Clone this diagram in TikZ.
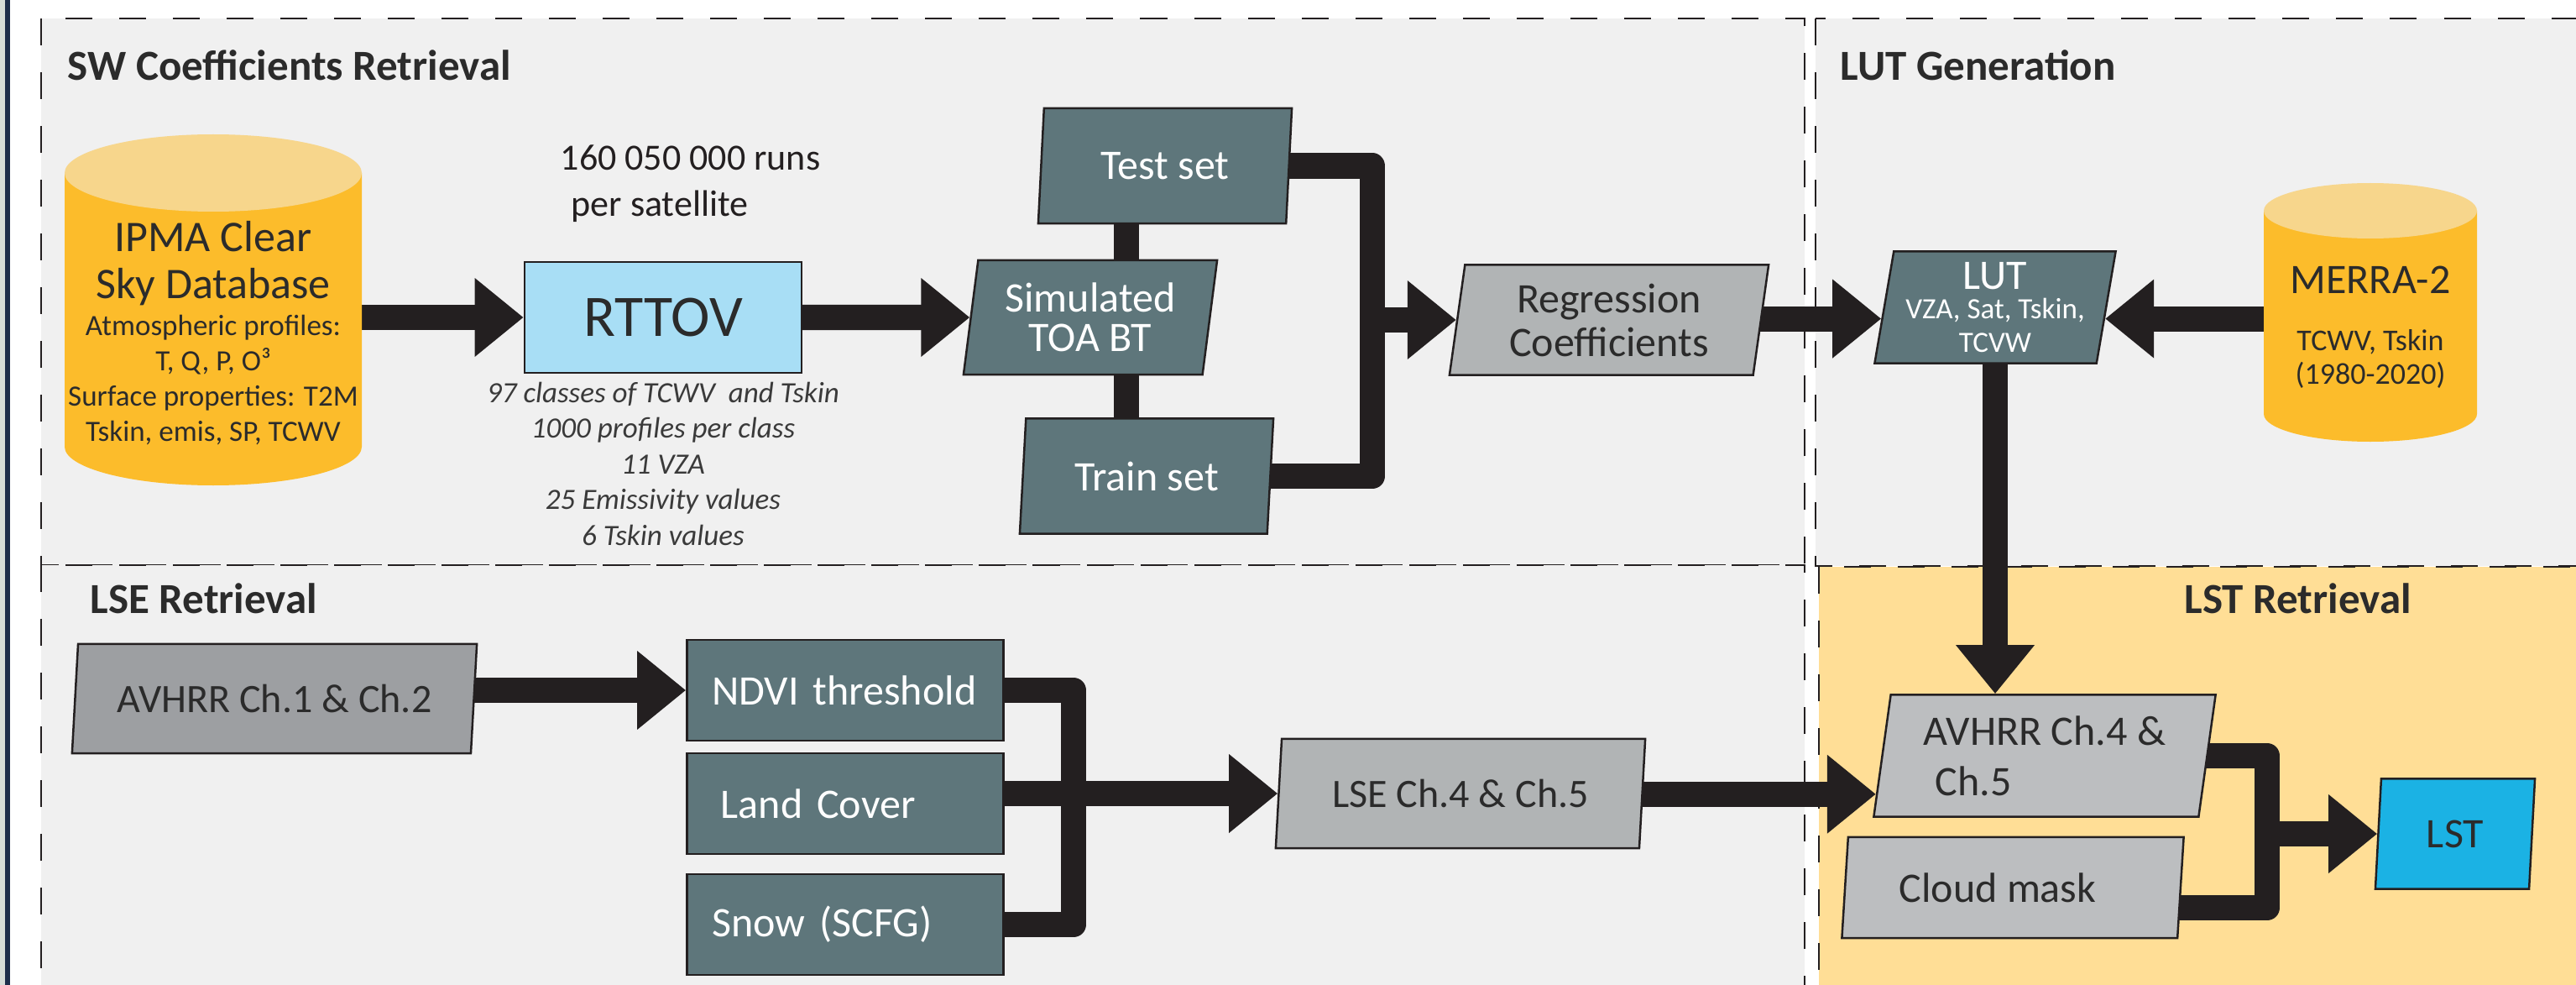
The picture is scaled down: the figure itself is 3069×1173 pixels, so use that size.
\documentclass[tikz,border=0pt]{standalone}
\usepackage{fontspec}
\setmainfont{Carlito}
\usetikzlibrary{shapes.geometric,arrows.meta,calc}
\pgfdeclarelayer{panels}
\pgfdeclarelayer{links}
\pgfsetlayers{panels,links,main}

\definecolor{linec}{HTML}{231F20}
\definecolor{paneltone}{HTML}{F0F0F0}
\definecolor{lstpanel}{HTML}{FFDE96}
\definecolor{slatefill}{HTML}{5E767B}
\definecolor{coefgray}{HTML}{B1B4B5}
\definecolor{chonegray}{HTML}{9D9FA2}
\definecolor{chfourgray}{HTML}{BCBEC0}
\definecolor{rttovblue}{HTML}{A8DEF5}
\definecolor{lstblue}{HTML}{1BB2E4}
\definecolor{cylbody}{HTML}{FCBC2B}
\definecolor{cyltop}{HTML}{F7D68C}
\definecolor{txtdark}{HTML}{2B2B2B}
\definecolor{notegray}{HTML}{3A3A3A}
\definecolor{navyline}{HTML}{1C2E4A}
\definecolor{stripc}{HTML}{D5DDD8}

\newcommand\fsz[2]{\fontsize{#1pt}{#2pt}\selectfont}
% database cylinder: centre x, top-face centre y, bottom-face centre y, x radius, y radius
\newcommand\dbcyl[5]{%
  \fill[cylbody] (#1-#4,#2) -- (#1-#4,#3) arc[start angle=180,end angle=360,x radius=#4,y radius=#5] -- (#1+#4,#2) -- cycle;
  \fill[cyltop] (#1,#2) ellipse[x radius=#4,y radius=#5];}

\tikzset{
  panel/.style={fill=paneltone, draw=linec, line width=0.75pt, dash pattern=on 0.32cm off 0.32cm},
  title/.style={anchor=base west, inner sep=0pt, text=txtdark, font=\bfseries\fsz{14.5}{17}},
  para/.style={trapezium, trapezium left angle=78, trapezium right angle=102,
    trapezium stretches body, draw=linec, line width=0.71pt, inner sep=0pt, align=center},
  slate/.style={fill=slatefill, text=white},
  boxslate/.style={rectangle, fill=slatefill, draw=linec, line width=0.71pt, minimum height=1.2cm,
    text width=3.17cm, inner xsep=0.3cm, inner ysep=0pt, align=left, text=white, font=\fsz{14.23}{17}},
  link/.style={draw=linec, line width=0.3cm, line join=round},
  fat/.style={draw=linec, line width=0.3cm, -{Triangle[length=0.58cm,width=0.9cm]}},
}

\begin{document}
\begin{tikzpicture}[x=0.01cm,y=0.01cm]
\useasboundingbox (0,0) rectangle (3069,-1173);

% ---------- frame and panels ----------
\begin{pgfonlayer}{panels}
  \clip (0,0) rectangle (3069,-1173);
  \fill[white] (0,0) rectangle (3069,-1173);
  \fill[stripc] (0,0) rectangle (6,-1173);
  \fill[navyline] (6,0) rectangle (12,-1173);
  \draw[panel] (49,-22) rectangle (2150,-673);
  \draw[panel] (49,-673) rectangle (2150,-1260);
  \draw[panel] (2163,-22) rectangle (3150,-674);
  \draw[panel, fill=lstpanel] (2167,-675) rectangle (3150,-1260);
\end{pgfonlayer}

% ---------- panel titles ----------
\node[title] (swtitle)  at (80,-96)   {SW Coefficients Retrieval};
\node[title] (luttitle) at (2192,-96) {LUT Generation};
\node[title] (lsetitle) at (107,-730) {LSE Retrieval};
\node[title] (lsttitle) at (2602,-730) {LST Retrieval};

% ---------- databases ----------
\dbcyl{254}{-206}{-532}{177}{46}
\node[anchor=north, align=center, inner sep=0pt, text=txtdark, font=\fsz{9.96}{11.95}] (ipma) at (254,-263)
  {{\fsz{14.8}{11.95}IPMA Clear}\\[0.14cm]{\fsz{14.8}{11.95}Sky Database}\\[0.015cm]
   Atmospheric profiles:\\T, Q, P, O³\\Surface properties: T2M\\Tskin, emis, SP, TCWV};

\dbcyl{2824}{-251}{-493}{127}{33}
\node[anchor=north, align=center, inner sep=0pt, text=txtdark, font=\fsz{10.24}{11.38}] (merra) at (2824,-316)
  {{\fsz{14.23}{11.38}MERRA-2}\\[0.28cm]TCWV, Tskin\\(1980-2020)};

% ---------- SW coefficients chain ----------
\node[rectangle, fill=rttovblue, draw=linec, line width=0.71pt, minimum width=3.3cm, minimum height=1.32cm,
      text=txtdark, font=\fsz{19.92}{24}] (rttov) at (790,-378) {RTTOV};
\node[anchor=north west, align=left, inner sep=0pt, text=linec, font=\fsz{12.52}{15.65}] (runs) at (667,-172)
  {160 050 000 runs\\\hspace*{3.7pt}per satellite};
\node[anchor=north, align=center, inner sep=0pt, text=notegray, font=\itshape\fsz{9.96}{12.09}] (rtnotes) at (790,-454)
  {97 classes of TCWV\ \ and Tskin\\1000 profiles per class\\11 VZA\\25 Emissivity values\\6 Tskin values};

\node[para, slate, minimum width=3.02cm, minimum height=1.37cm, font=\fsz{14.23}{17}] (test) at (1388,-197.5) {Test set};
\node[para, slate, minimum width=3.02cm, minimum height=1.36cm, font=\fsz{14.23}{13.37}] (sim) at (1299,-378) {Simulated\\TOA BT};
\node[para, slate, minimum width=3.02cm, minimum height=1.37cm, font=\fsz{14.23}{17}] (train) at (1366,-567) {Train set};
\node[para, fill=coefgray, text=txtdark, minimum width=3.8cm, minimum height=1.31cm, font=\fsz{14.23}{14.8}] (reg) at (1917,-381)
  {Regression\\Coefficients};

% ---------- LUT ----------
\node[para, slate, minimum width=2.87cm, minimum height=1.33cm, font=\fsz{9.96}{11.38}] (lut) at (2377,-366)
  {{\fsz{14.23}{11.38}LUT}\\[-0.05cm]VZA, Sat, Tskin,\\TCVW};

% ---------- LSE retrieval ----------
\node[para, fill=chonegray, text=txtdark, minimum width=4.82cm, minimum height=1.3cm, font=\fsz{13.66}{16}] (avh1) at (327,-832)
  {AVHRR Ch.1 \& Ch.2};
\node[boxslate] (ndvi) at (1007,-822)  {NDVI threshold};
\node[boxslate] (land) at (1007,-957)  {\hspace*{3pt}Land Cover};
\node[boxslate] (snow) at (1007,-1101) {Snow (SCFG)};
\node[para, fill=coefgray, text=txtdark, minimum width=4.4cm, minimum height=1.3cm, font=\fsz{13.66}{16}] (lse) at (1740,-945)
  {LSE Ch.4 \& Ch.5};

% ---------- LST retrieval ----------
\node[para, fill=chfourgray, text=txtdark, align=left, minimum width=4.07cm, minimum height=1.45cm, font=\fsz{14.23}{17.07}] (avh4) at (2436,-900)
  {AVHRR Ch.4 \&\\\hspace*{4pt}Ch.5};
\node[para, fill=chfourgray, text=txtdark, minimum width=4.07cm, minimum height=1.2cm, font=\fsz{14.23}{17}] (cloud) at (2398,-1057)
  {Cloud mask\hspace*{0.36cm}};
\node[para, fill=lstblue, text=txtdark, minimum width=1.9cm, minimum height=1.31cm, font=\fsz{14.23}{17}] (lst) at (2925,-993) {LST};

% ---------- connector columns and entry points ----------
\coordinate (colset) at (1342,0);
\coordinate (colfit) at (1635,0);
\coordinate (collse) at (1279,0);
\coordinate (collst) at (2701,0);
\coordinate (lutin)  at ($(lut.bottom left corner)!0.4!(lut.top left corner)$);
\coordinate (lutout) at ($(lut.bottom right corner)!0.4!(lut.top right corner)$);
\coordinate (avhin)  at ($(avh4.bottom left corner)!0.19!(avh4.top left corner)$);

\begin{pgfonlayer}{links}
  \draw[fat] (ipma.center |- rttov.west) -- (rttov.west);
  \draw[fat] (rttov.center) -- (sim.west);
  \draw[link] (test.center -| colset) -- (sim.center -| colset);
  \draw[link] (sim.center -| colset) -- (train.center -| colset);
  \draw[link] (test.center) -- (test.center -| colfit) -- (train.center -| colfit) -- (train.center);
  \draw[fat] (colfit |- reg.west) -- (reg.west);
  \draw[fat] (reg.center |- lutin) -- (lutin);
  \draw[fat] (merra.center |- lutout) -- (lutout);
  \draw[fat] (lut.center) -- (lut.center |- avh4.north);

  \draw[fat] (avh1.center |- ndvi.west) -- (ndvi.west);
  \draw[link] (ndvi.center) -- (ndvi.center -| collse) -- (snow.center -| collse) -- (snow.center);
  \draw[fat] (land.center |- lse.west) -- (lse.west);
  \draw[fat] (lse.center |- avhin) -- (avhin);

  \draw[link] (avh4.center) -- (avh4.center -| collst) -- ($(cloud.center -| collst)+(0,-24)$) -- ($(cloud.center)+(0,-24)$);
  \draw[fat] (collst |- lst.west) -- (lst.west);
\end{pgfonlayer}
\end{tikzpicture}
\end{document}
